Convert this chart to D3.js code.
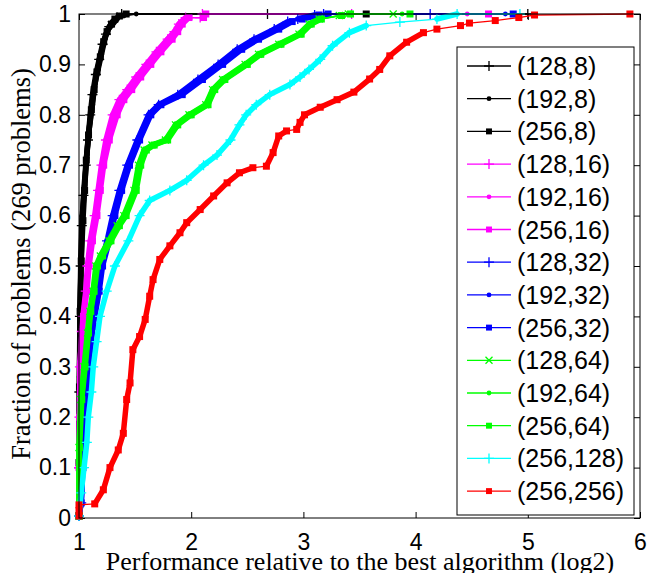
<!DOCTYPE html>
<html><head><meta charset="utf-8">
<script src="https://cdn.jsdelivr.net/npm/d3@7"></script>
<style>
html,body{margin:0;padding:0;background:#fff;}
svg{display:block;}
</style></head>
<body>
<svg id="chart" width="648" height="573"></svg>
<script>
// ---------- data ----------
const xTicks = [1, 2, 3, 4, 5, 6];
const xTickLabels = ["1", "2", "3", "4", "5", "6"];
const yTicks = [0, 0.1, 0.2, 0.3, 0.4, 0.5, 0.6, 0.7, 0.8, 0.9, 1];
const yTickLabels = ["0", "0.1", "0.2", "0.3", "0.4", "0.5", "0.6", "0.7", "0.8", "0.9", "1"];
const xTitle = "Performance relative to the best algorithm (log2)";
const yTitle = "Fraction of problems (269 problems)";

const seriesNames = ["(128,8)", "(192,8)", "(256,8)", "(128,16)", "(192,16)", "(256,16)",
  "(128,32)", "(192,32)", "(256,32)", "(128,64)", "(192,64)", "(256,64)", "(256,128)", "(256,256)"];

const s128_8 = [[1.00,0.004],[1.00,0.10],[1.003,0.25],[1.008,0.40],[1.015,0.50],[1.025,0.58],[1.04,0.64],[1.06,0.70],[1.08,0.75],[1.10,0.80],[1.12,0.84],[1.15,0.88],[1.18,0.91],[1.21,0.94],[1.24,0.96],[1.27,0.975],[1.30,0.985],[1.34,0.993],[1.38,1.0],[2.68,1.0],[5.0,1.0]];
const s192_8 = [[1.00,0.004],[1.00,0.12],[1.005,0.28],[1.01,0.42],[1.02,0.52],[1.03,0.60],[1.05,0.66],[1.07,0.72],[1.09,0.77],[1.12,0.82],[1.14,0.86],[1.17,0.89],[1.20,0.92],[1.23,0.95],[1.26,0.97],[1.30,0.98],[1.34,0.99],[1.40,0.996],[1.51,1.0],[3.43,1.0]];
const s256_8 = [[1.00,0.004],[1.00,0.11],[1.004,0.26],[1.01,0.41],[1.02,0.51],[1.035,0.59],[1.05,0.65],[1.065,0.71],[1.085,0.76],[1.11,0.81],[1.135,0.85],[1.16,0.885],[1.19,0.915],[1.22,0.945],[1.25,0.965],[1.29,0.98],[1.32,0.99],[1.36,0.996],[1.42,1.0],[3.56,1.0]];

const s128_16 = [[1.00,0.004],[1.00,0.10],[1.004,0.20],[1.008,0.30],[1.025,0.37],[1.035,0.40],[1.06,0.45],[1.075,0.50],[1.10,0.55],[1.14,0.60],[1.17,0.65],[1.20,0.70],[1.24,0.75],[1.30,0.80],[1.36,0.83],[1.43,0.85],[1.51,0.875],[1.60,0.90],[1.69,0.925],[1.79,0.95],[1.85,0.965],[1.89,0.98],[1.95,0.993],[2.08,0.993],[2.10,1.0],[3.43,1.0]];
const s192_16 = [[1.00,0.004],[1.00,0.11],[1.005,0.21],[1.01,0.31],[1.03,0.38],[1.045,0.41],[1.07,0.46],[1.085,0.51],[1.12,0.56],[1.155,0.61],[1.185,0.66],[1.215,0.70],[1.26,0.755],[1.33,0.80],[1.39,0.83],[1.46,0.85],[1.54,0.875],[1.63,0.90],[1.72,0.925],[1.82,0.95],[1.87,0.965],[1.91,0.98],[1.97,0.993],[2.10,0.993],[2.12,1.0],[4.46,1.0]];
const s256_16 = [[1.00,0.004],[1.00,0.10],[1.006,0.20],[1.012,0.30],[1.03,0.37],[1.04,0.40],[1.07,0.45],[1.09,0.50],[1.12,0.55],[1.16,0.60],[1.19,0.65],[1.22,0.70],[1.27,0.75],[1.34,0.80],[1.40,0.83],[1.47,0.85],[1.55,0.875],[1.64,0.90],[1.73,0.925],[1.83,0.95],[1.88,0.965],[1.92,0.98],[1.98,0.993],[2.11,0.993],[2.13,1.0],[4.65,1.0]];

const s128_32 = [[1.00,0.004],[1.02,0.03],[1.03,0.10],[1.05,0.20],[1.08,0.30],[1.12,0.38],[1.16,0.45],[1.19,0.50],[1.25,0.55],[1.30,0.60],[1.36,0.65],[1.43,0.70],[1.52,0.75],[1.62,0.80],[1.71,0.82],[1.88,0.84],[2.06,0.87],[2.24,0.90],[2.41,0.93],[2.56,0.95],[2.74,0.97],[2.86,0.985],[2.95,0.99],[3.10,0.998],[3.18,1.0],[4.13,1.0]];
const s192_32 = [[1.00,0.004],[1.02,0.03],[1.03,0.10],[1.05,0.20],[1.08,0.30],[1.12,0.38],[1.17,0.45],[1.20,0.50],[1.26,0.55],[1.31,0.60],[1.37,0.65],[1.44,0.70],[1.53,0.75],[1.63,0.80],[1.72,0.82],[1.90,0.84],[2.08,0.87],[2.26,0.90],[2.43,0.93],[2.58,0.95],[2.76,0.97],[2.88,0.985],[2.97,0.99],[3.12,0.998],[3.20,1.0],[4.80,1.0]];
const s256_32 = [[1.00,0.004],[1.02,0.03],[1.035,0.10],[1.055,0.20],[1.085,0.30],[1.125,0.38],[1.18,0.45],[1.21,0.50],[1.27,0.55],[1.32,0.60],[1.38,0.65],[1.45,0.70],[1.54,0.75],[1.64,0.80],[1.73,0.82],[1.92,0.84],[2.10,0.87],[2.28,0.90],[2.45,0.93],[2.60,0.95],[2.78,0.97],[2.90,0.985],[2.99,0.99],[3.14,0.998],[3.22,1.0],[4.87,1.0]];

const s128_64 = [[1.00,0.004],[1.00,0.14],[1.015,0.235],[1.045,0.30],[1.075,0.367],[1.095,0.41],[1.125,0.45],[1.15,0.50],[1.19,0.52],[1.265,0.55],[1.34,0.58],[1.40,0.60],[1.49,0.65],[1.53,0.70],[1.58,0.73],[1.65,0.74],[1.77,0.75],[1.86,0.78],[1.98,0.80],[2.13,0.82],[2.19,0.85],[2.28,0.87],[2.48,0.90],[2.60,0.92],[2.78,0.94],[2.96,0.96],[3.05,0.98],[3.14,0.99],[3.32,0.997],[3.40,1.0],[3.80,1.0]];
const s192_64 = [[1.00,0.004],[1.00,0.14],[1.02,0.235],[1.05,0.30],[1.08,0.367],[1.10,0.41],[1.13,0.45],[1.157,0.50],[1.20,0.52],[1.276,0.55],[1.35,0.58],[1.41,0.60],[1.50,0.65],[1.54,0.70],[1.59,0.73],[1.66,0.74],[1.78,0.75],[1.87,0.78],[1.99,0.80],[2.14,0.82],[2.20,0.85],[2.29,0.87],[2.49,0.90],[2.61,0.92],[2.79,0.94],[2.97,0.96],[3.06,0.98],[3.15,0.99],[3.33,0.997],[3.40,1.0],[3.88,1.0]];
const s256_64 = [[1.00,0.004],[1.005,0.14],[1.025,0.235],[1.055,0.30],[1.085,0.367],[1.105,0.41],[1.135,0.45],[1.165,0.50],[1.21,0.52],[1.285,0.55],[1.36,0.58],[1.42,0.60],[1.51,0.65],[1.55,0.70],[1.60,0.73],[1.67,0.74],[1.79,0.75],[1.88,0.78],[2.00,0.80],[2.15,0.82],[2.21,0.85],[2.30,0.87],[2.50,0.90],[2.62,0.92],[2.80,0.94],[2.98,0.96],[3.07,0.98],[3.16,0.99],[3.34,0.997],[3.42,1.0],[3.95,1.0]];

const s256_128 = [[1.00,0.004],[1.02,0.05],[1.045,0.10],[1.07,0.15],[1.083,0.20],[1.11,0.25],[1.127,0.30],[1.157,0.35],[1.187,0.40],[1.247,0.45],[1.32,0.50],[1.44,0.55],[1.54,0.60],[1.63,0.63],[1.81,0.65],[1.96,0.67],[2.11,0.70],[2.23,0.72],[2.35,0.75],[2.43,0.78],[2.49,0.80],[2.58,0.82],[2.70,0.84],[2.88,0.86],[2.97,0.875],[3.05,0.89],[3.15,0.91],[3.26,0.937],[3.41,0.963],[3.56,0.977],[3.86,0.984],[4.19,0.99],[4.37,1.0],[4.93,1.0]];

const s256_256 = [[1.00,0.004],[1.00,0.015],[1.00,0.026],[1.14,0.028],[1.217,0.056],[1.276,0.10],[1.35,0.135],[1.395,0.168],[1.425,0.235],[1.455,0.268],[1.48,0.334],[1.54,0.36],[1.59,0.394],[1.63,0.44],[1.66,0.473],[1.72,0.513],[1.81,0.54],[1.90,0.566],[1.96,0.586],[2.08,0.612],[2.20,0.639],[2.32,0.665],[2.43,0.685],[2.55,0.695],[2.67,0.698],[2.73,0.725],[2.78,0.758],[2.85,0.768],[2.94,0.771],[2.97,0.785],[3.01,0.80],[3.15,0.815],[3.30,0.83],[3.45,0.845],[3.59,0.871],[3.68,0.89],[3.77,0.917],[3.92,0.944],[4.07,0.963],[4.19,0.97],[4.40,0.977],[4.48,0.982],[4.71,0.987],[4.92,0.993],[5.06,0.998],[5.91,1.0]];

const seriesData = [s128_8, s192_8, s256_8, s128_16, s192_16, s256_16,
  s128_32, s192_32, s256_32, s128_64, s192_64, s256_64, s256_128, s256_256];

// ---------- styles ----------
const seriesColors = ["#000000","#000000","#000000","#ff00ff","#ff00ff","#ff00ff",
  "#0000ff","#0000ff","#0000ff","#00ff00","#00ff00","#00ff00","#00ffff","#ff0000"];
const seriesMarkers = ["plus","dot","square","plus","dot","square",
  "plus","dot","square","cross","dot","square","plus","square"];

const W = 648, H = 573;
const plot = {left: 79, right: 640, top: 14, bottom: 518};
const svg = d3.select("#chart");
svg.append("rect").attr("width", W).attr("height", H).attr("fill", "#fff");

const x = d3.scaleLinear().domain([1, 6]).range([plot.left, plot.right]);
const y = d3.scaleLinear().domain([0, 1]).range([plot.bottom, plot.top]);

const sansFont = "'Liberation Sans', Arial, Helvetica, sans-serif";
const serifFont = "'Liberation Serif', 'Times New Roman', serif";

// axes
const gx = svg.append("g").attr("transform", `translate(0,${plot.bottom})`)
  .call(d3.axisBottom(x).tickValues(xTicks).tickSize(-6).tickPadding(16)
    .tickFormat((d, i) => xTickLabels[i]));
const gy = svg.append("g").attr("transform", `translate(${plot.left},0)`)
  .call(d3.axisLeft(y).tickValues(yTicks).tickSize(-6).tickPadding(8)
    .tickFormat((d, i) => yTickLabels[i]));
const gxt = svg.append("g").attr("transform", `translate(0,${plot.top})`)
  .call(d3.axisTop(x).tickValues(xTicks).tickSize(-6).tickFormat(""));
const gyr = svg.append("g").attr("transform", `translate(${plot.right},0)`)
  .call(d3.axisRight(y).tickValues(yTicks).tickSize(-6).tickFormat(""));
[gx, gy, gxt, gyr].forEach(g => {
  g.select(".domain").remove();
  g.selectAll(".tick line").attr("stroke", "#000").attr("stroke-width", 1);
  g.selectAll("text").attr("font-family", sansFont).attr("font-size", 23).attr("fill", "#000");
});

// series
const line = d3.line().x(d => x(d[0])).y(d => y(d[1]));
const seriesG = svg.append("g");

function drawMarker(g, kind, cx, cy, color, scale) {
  const s = scale || 1;
  if (kind === "plus") {
    g.append("path").attr("d", `M${cx-5*s},${cy}H${cx+5*s}M${cx},${cy-5*s}V${cy+5*s}`)
      .attr("stroke", color).attr("stroke-width", 1.3).attr("fill", "none");
  } else if (kind === "cross") {
    g.append("path").attr("d", `M${cx-3.5*s},${cy-3.5*s}L${cx+3.5*s},${cy+3.5*s}M${cx-3.5*s},${cy+3.5*s}L${cx+3.5*s},${cy-3.5*s}`)
      .attr("stroke", color).attr("stroke-width", 1.3).attr("fill", "none");
  } else if (kind === "dot") {
    g.append("circle").attr("cx", cx).attr("cy", cy).attr("r", 2.4 * s).attr("fill", color);
  } else if (kind === "square") {
    g.append("rect").attr("x", cx - 3.5*s).attr("y", cy - 3.5*s).attr("width", 7*s).attr("height", 7*s)
      .attr("fill", color);
  }
}

seriesData.forEach((data, si) => {
  const color = seriesColors[si];
  const g = seriesG.append("g");
  g.append("path").datum(data).attr("d", line).attr("fill", "none")
    .attr("stroke", color).attr("stroke-width", 1.3);
  // dense band: where markers pile up, draw a thick stroke
  for (let i = 0; i < data.length - 1; i++) {
    const x0 = x(data[i][0]), y0 = y(data[i][1]), x1 = x(data[i+1][0]), y1 = y(data[i+1][1]);
    if (Math.abs(y1 - y0) > 4) {
      g.append("line").attr("x1", x0).attr("y1", y0).attr("x2", x1).attr("y2", y1)
        .attr("stroke", color).attr("stroke-width", 5.5).attr("stroke-linecap", "round");
    }
  }
  data.forEach(d => drawMarker(g, seriesMarkers[si], x(d[0]), y(d[1]), color, 1));
});

// box
svg.append("rect").attr("x", plot.left).attr("y", plot.top)
  .attr("width", plot.right - plot.left).attr("height", plot.bottom - plot.top)
  .attr("fill", "none").attr("stroke", "#000").attr("stroke-width", 1);

// legend
const leg = {x: 457, y: 47, w: 177, h: 468, row0: 66, step: 32.7};
const lg = svg.append("g");
lg.append("rect").attr("x", leg.x).attr("y", leg.y).attr("width", leg.w).attr("height", leg.h)
  .attr("fill", "#fff").attr("stroke", "#000").attr("stroke-width", 1);
seriesNames.forEach((name, i) => {
  const cy = leg.row0 + i * leg.step;
  lg.append("line").attr("x1", 467).attr("x2", 511).attr("y1", cy).attr("y2", cy)
    .attr("stroke", seriesColors[i]).attr("stroke-width", 1.3);
  drawMarker(lg, seriesMarkers[i], 489, cy, seriesColors[i], seriesMarkers[i] === "square" ? 0.85 : 1);
  lg.append("text").attr("x", 517).attr("y", cy + 9)
    .attr("font-family", sansFont).attr("font-size", 25).attr("fill", "#000").text(name);
});

// titles
svg.append("text").attr("x", 360).attr("y", 570).attr("text-anchor", "middle")
  .attr("font-family", serifFont).attr("font-size", 26).attr("fill", "#000").text(xTitle);
svg.append("text").attr("transform", "translate(30,264) rotate(-90)").attr("text-anchor", "middle")
  .attr("font-family", serifFont).attr("font-size", 26.5).attr("fill", "#000").text(yTitle);
</script>
</body></html>
